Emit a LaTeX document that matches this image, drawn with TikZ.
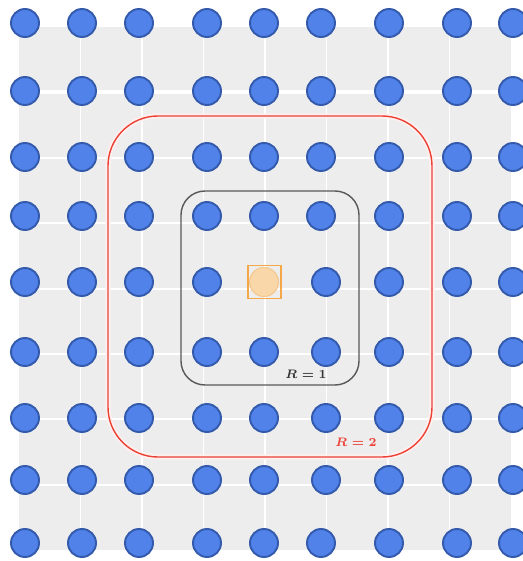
\documentclass[tikz,border=0pt]{standalone}
\definecolor{dotblue}{RGB}{80,130,234}
\definecolor{dotedge}{RGB}{52,90,172}
\definecolor{paneg}{RGB}{237,237,237}
\definecolor{ringred}{RGB}{236,66,54}
\definecolor{ringdark}{RGB}{88,88,88}
\definecolor{hostfill}{RGB}{249,215,168}
\definecolor{hostedge}{RGB}{244,200,142}
\definecolor{hostbox}{RGB}{245,168,72}
\tikzset{
  site/.style={circle,draw=dotedge,fill=dotblue,line width=1.1pt,inner sep=0pt,minimum size=0.56cm},
  host/.style={circle,draw=hostedge,fill=hostfill,line width=0.6pt,inner sep=0pt,minimum size=0.58cm},
  hostsq/.style={rectangle,draw=hostbox,line width=0.6pt,inner sep=0pt,minimum size=0.66cm},
  gridln/.style={white,line width=1.1pt},
  rlabel/.style={inner sep=1pt,font=\fontsize{6.8}{8}\selectfont\boldmath}
}
\begin{document}
\begin{tikzpicture}[x=0.02cm,y=-0.02cm]
    \useasboundingbox (0,0) rectangle (522,561);
    \fill[paneg] (19,27) rectangle (511,550);

    \foreach \k in {1,...,7}{
        \coordinate (vt\k) at ({19+61.5*\k},27);
        \coordinate (vb\k) at ({19+61.5*\k},550);
        \coordinate (hl\k) at (19,{27+65.4*\k});
        \coordinate (hr\k) at (511,{27+65.4*\k});
        \draw[gridln] (vt\k)--(vb\k);
        \draw[gridln] (hl\k)--(hr\k);
    }
    \draw[gridln,line width=2.2pt] (hl1)--(hr1);

    \draw[ringred!8,line width=3pt,rounded corners=1cm] (108,116) rectangle (432,457);
    \draw[ringred,line width=0.8pt,rounded corners=1cm] (108,116) rectangle (432,457);
    \draw[ringdark,line width=0.8pt,rounded corners=0.48cm] (181,191) rectangle (359,385);

    \foreach \y [count=\r] in {23,91,157,216,282,352,418,480,543}{
        \foreach \x [count=\c] in {25,82,139,207,264,321,389,457,513}{
            \pgfmathtruncatemacro{\iscenter}{(\r==5 && \c==5) ? 1 : 0}
            \pgfmathsetmacro{\dx}{(\c==6 && \r>4 && \r<9) ? 5 : 0}
            \ifnum\iscenter=0
                \node[site] (s-\r-\c) at (\x+\dx,\y) {};
            \fi
        }
    }

    \node[host] (h) at (264,282) {};
    \node[hostsq] (hbox) at (264.5,282) {};

    \node[rlabel,text=black!80] (r1) at (306,374) {$R=1$};
    \node[rlabel,text=ringred] (r2) at (356,442) {$R=2$};
\end{tikzpicture}
\end{document}
